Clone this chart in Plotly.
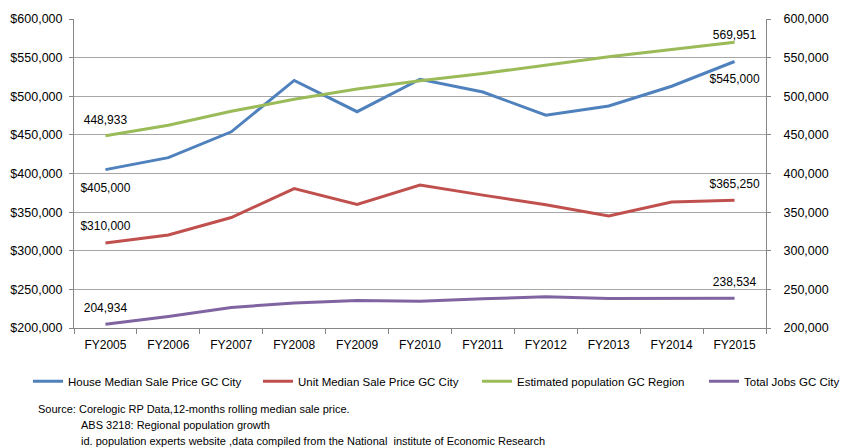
import plotly.graph_objects as go

categories = ["FY2005", "FY2006", "FY2007", "FY2008", "FY2009", "FY2010",
              "FY2011", "FY2012", "FY2013", "FY2014", "FY2015"]
house = [405000, 420500, 454000, 520500, 480000, 522000, 505500, 475500, 487500, 513000, 545000]
unit = [310000, 320500, 343000, 380500, 360000, 385000, 372000, 359500, 345000, 363000, 365250]
population = [448933, 462500, 480500, 496000, 509500, 520000, 529500, 540500, 551000, 560500, 569951]
jobs = [204934, 215000, 226500, 232500, 235500, 234500, 237800, 240300, 238200, 238500, 238534]

names = ["House Median Sale Price GC City", "Unit Median Sale Price GC City",
         "Estimated population GC Region", "Total Jobs GC City"]
colors = ["#4F81BD", "#C0504D", "#9BBB59", "#8064A2"]

def end_labels(vals, prefix=""):
    out = [""] * len(vals)
    out[0] = f"{prefix}{vals[0]:,}"
    out[-1] = f"{prefix}{vals[-1]:,}"
    return out

FONT = "Liberation Sans, Arial, sans-serif"

# (values, axis, prefix, label position, label offset (first, last))
series = [
    (house, "y", "$", "bottom center", (20, 19)),
    (unit, "y", "$", "top center", (15, 13)),
    (population, "y2", "", "top center", (13, 0)),
    (jobs, "y2", "", "top center", (13, 13)),
]
legend_ids = ["legend", "legend2", "legend3", "legend4"]
legend_px = [28, 258, 477, 704]  # left edge of each legend entry, px

fig = go.Figure()
for (vals, ax, pre, tpos, offs), name, col, lid in zip(series, names, colors, legend_ids):
    sizes = [0] * len(vals)
    sizes[0], sizes[-1] = offs
    fig.add_trace(go.Scatter(
        x=categories, y=vals, name=name, yaxis=ax, legend=lid,
        mode="lines+markers+text", text=end_labels(vals, pre), textposition=tpos,
        textfont=dict(size=12, color="#000000", family=FONT),
        marker=dict(size=sizes, color="rgba(0,0,0,0)", line=dict(width=0)),
        line=dict(color=col, width=3), cliponaxis=False, hoverinfo="x+y+name",
    ))

legend_common = dict(orientation="h", xanchor="left", y=-0.172, yanchor="middle",
                     font=dict(size=11.5, family=FONT), itemwidth=30,
                     bgcolor="rgba(0,0,0,0)")
legends = {lid: dict(x=(px - 74) / 692, **legend_common) for lid, px in zip(legend_ids, legend_px)}

fig.update_layout(
    width=841, height=448,
    margin=dict(l=74, r=75, t=19, b=120, autoexpand=False),
    paper_bgcolor="white", plot_bgcolor="white",
    font=dict(family=FONT, size=12, color="#000000"),
    showlegend=True,
    xaxis=dict(type="category", range=[-0.5, 10.5], showgrid=False,
               showline=True, linecolor="#868686", linewidth=1,
               ticks="outside", tickson="boundaries", ticklen=5, tickcolor="#868686",
               ticklabelstandoff=6, tickfont=dict(size=12)),
    yaxis=dict(range=[200000, 600000], dtick=50000, tickprefix="$", tickformat=",.0f",
               showgrid=True, gridcolor="#A6A6A6", gridwidth=1,
               showline=True, linecolor="#868686", linewidth=1,
               ticks="outside", ticklen=4, tickcolor="#868686", zeroline=False,
               ticklabelstandoff=4, tickfont=dict(size=12.5)),
    yaxis2=dict(range=[200000, 600000], dtick=50000, tickformat=",.0f",
                overlaying="y", side="right", showgrid=False,
                showline=True, linecolor="#868686", linewidth=1,
                ticks="outside", ticklen=4, tickcolor="#868686", zeroline=False,
                ticklabelstandoff=10, tickfont=dict(size=12.5)),
    **legends,
)

source_lines = [
    ("Source: Corelogic RP Data,12-months rolling median sale price.", 36, 409),
    ("ABS 3218: Regional population growth", 79, 425),
    ("id. population experts website ,data compiled from the National  institute of Economic Research", 79, 441),
]
for txt, px, py in source_lines:
    fig.add_annotation(text=txt, xref="paper", yref="paper",
                       x=(px - 74) / 692, y=(328 - py) / 309,
                       xanchor="left", yanchor="middle", showarrow=False,
                       font=dict(size=11, family=FONT, color="#000000"))

fig.write_html("out.html")
